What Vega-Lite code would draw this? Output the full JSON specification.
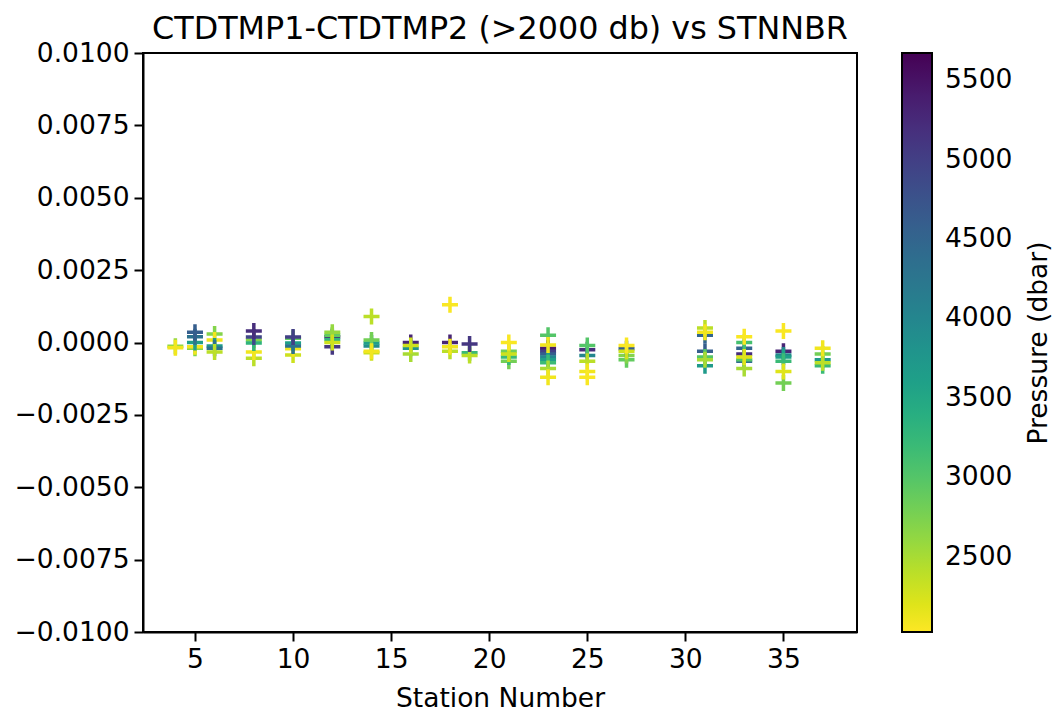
{
  "$schema": "https://vega.github.io/schema/vega-lite/v6.json",
  "width": 714,
  "height": 579,
  "autosize": {"type": "none"},
  "padding": {"left": 143, "top": 53, "right": 198, "bottom": 81},
  "background": "white",
  "title": {
    "text": "CTDTMP1-CTDTMP2 (>2000 db) vs STNNBR",
    "font": "DejaVu Sans",
    "fontSize": 31.8,
    "fontWeight": "normal",
    "color": "black",
    "offset": -6,
    "anchor": "middle"
  },
  "config": {
    "view": {"stroke": "black", "strokeWidth": 2},
    "axis": {
      "labelFont": "DejaVu Sans",
      "labelFontSize": 26.5,
      "labelColor": "black",
      "titleFont": "DejaVu Sans",
      "titleFontSize": 26.5,
      "titleFontWeight": "normal",
      "titleColor": "black",
      "tickColor": "black",
      "tickSize": 9,
      "tickWidth": 2,
      "domainColor": "black",
      "domainWidth": 2,
      "grid": false,
      "labelPadding": 5
    }
  },
  "data": {
    "values": [
      {"s": 4, "d": -0.00013, "p": 2600}, {"s": 4, "d": -0.00018, "p": 2100},
      {"s": 5, "d": -0.0002, "p": 2700}, {"s": 5, "d": -0.00015, "p": 2100}, {"s": 5, "d": 0.0, "p": 3600}, {"s": 5, "d": 0.0002, "p": 4300}, {"s": 5, "d": 0.00035, "p": 4600},
      {"s": 6, "d": 0.00029, "p": 2700}, {"s": 6, "d": 0.00009, "p": 2100}, {"s": 6, "d": -0.00012, "p": 3700}, {"s": 6, "d": -0.0002, "p": 4300}, {"s": 6, "d": -0.00033, "p": 2400},
      {"s": 8, "d": -0.00054, "p": 2400}, {"s": 8, "d": -0.00033, "p": 2100}, {"s": 8, "d": 0.00009, "p": 2700}, {"s": 8, "d": -0.00002, "p": 3300}, {"s": 8, "d": 0.00019, "p": 4900}, {"s": 8, "d": 0.0004, "p": 5200},
      {"s": 10, "d": -0.00043, "p": 2300}, {"s": 10, "d": -0.00022, "p": 2100}, {"s": 10, "d": 0.00015, "p": 2900}, {"s": 10, "d": -0.00002, "p": 3600}, {"s": 10, "d": -0.00012, "p": 4300}, {"s": 10, "d": 0.00019, "p": 5000},
      {"s": 12, "d": -0.00015, "p": 5100}, {"s": 12, "d": 0.0002, "p": 5300}, {"s": 12, "d": 0.0001, "p": 3300}, {"s": 12, "d": 0.00025, "p": 2900}, {"s": 12, "d": 0.00035, "p": 2600}, {"s": 12, "d": 0.0, "p": 2300},
      {"s": 14, "d": 0.0009, "p": 2400}, {"s": 14, "d": -0.00012, "p": 3900}, {"s": 14, "d": -0.00002, "p": 3600}, {"s": 14, "d": 0.00009, "p": 2800}, {"s": 14, "d": -0.00035, "p": 2300}, {"s": 14, "d": -0.0003, "p": 2100},
      {"s": 16, "d": 0.0, "p": 5300}, {"s": 16, "d": -0.0002, "p": 3800}, {"s": 16, "d": -0.0004, "p": 2500}, {"s": 16, "d": -0.0001, "p": 2300},
      {"s": 18, "d": 0.0, "p": 5300}, {"s": 18, "d": -0.0003, "p": 2400}, {"s": 18, "d": -0.00015, "p": 2100}, {"s": 18, "d": 0.0013, "p": 2050},
      {"s": 19, "d": -0.00035, "p": 3200}, {"s": 19, "d": -0.00045, "p": 2400}, {"s": 19, "d": -0.00005, "p": 5100},
      {"s": 21, "d": -0.00065, "p": 2800}, {"s": 21, "d": -0.0005, "p": 3200}, {"s": 21, "d": -0.0003, "p": 2800}, {"s": 21, "d": -0.0004, "p": 2300}, {"s": 21, "d": 0.0, "p": 2050},
      {"s": 23, "d": 0.00025, "p": 3000}, {"s": 23, "d": -0.0002, "p": 5400}, {"s": 23, "d": -0.0003, "p": 5000}, {"s": 23, "d": -0.0004, "p": 4600}, {"s": 23, "d": -0.0005, "p": 4000}, {"s": 23, "d": -0.0006, "p": 3600}, {"s": 23, "d": -0.0007, "p": 3200}, {"s": 23, "d": -0.0009, "p": 2500}, {"s": 23, "d": -0.00009, "p": 2100}, {"s": 23, "d": -0.0012, "p": 2100},
      {"s": 25, "d": -0.00025, "p": 5200}, {"s": 25, "d": -0.00045, "p": 4000}, {"s": 25, "d": -0.0001, "p": 3000}, {"s": 25, "d": -0.00065, "p": 2400}, {"s": 25, "d": -0.001, "p": 2100}, {"s": 25, "d": -0.0012, "p": 2050},
      {"s": 27, "d": -0.0006, "p": 2900}, {"s": 27, "d": -0.00045, "p": 2700}, {"s": 27, "d": -0.00022, "p": 4600}, {"s": 27, "d": -0.0003, "p": 2300}, {"s": 27, "d": -0.0001, "p": 2050},
      {"s": 31, "d": -0.0008, "p": 3700}, {"s": 31, "d": -0.0003, "p": 4600}, {"s": 31, "d": -0.0005, "p": 3000}, {"s": 31, "d": -0.0006, "p": 2500}, {"s": 31, "d": 0.00025, "p": 4500}, {"s": 31, "d": 0.0005, "p": 2400}, {"s": 31, "d": 0.00035, "p": 2100},
      {"s": 33, "d": -0.0004, "p": 5200}, {"s": 33, "d": -0.0002, "p": 4500}, {"s": 33, "d": -0.00065, "p": 4400}, {"s": 33, "d": 0.0, "p": 3100}, {"s": 33, "d": -0.0006, "p": 3000}, {"s": 33, "d": -0.0009, "p": 2500}, {"s": 33, "d": -0.0005, "p": 2200}, {"s": 33, "d": 0.0002, "p": 2050},
      {"s": 35, "d": -0.0003, "p": 5300}, {"s": 35, "d": -0.00043, "p": 4000}, {"s": 35, "d": -0.0005, "p": 3600}, {"s": 35, "d": -0.00065, "p": 3200}, {"s": 35, "d": -0.0014, "p": 2800}, {"s": 35, "d": -0.001, "p": 2200}, {"s": 35, "d": 0.0004, "p": 2050},
      {"s": 37, "d": -0.0006, "p": 3700}, {"s": 37, "d": -0.0008, "p": 3200}, {"s": 37, "d": -0.0004, "p": 2800}, {"s": 37, "d": -0.0007, "p": 2400}, {"s": 37, "d": -0.0002, "p": 2100}
    ]
  },
  "layer": [
    {
      "mark": {
        "type": "point",
        "shape": "M-1,0H1M0,-1V1",
        "filled": false,
        "size": 256,
        "strokeWidth": 3.5,
        "opacity": 1,
        "clip": true
      },
      "encoding": {
        "x": {
          "field": "s",
          "type": "quantitative",
          "scale": {"domain": [2.35, 38.75], "nice": false, "zero": false},
          "axis": {"values": [5, 10, 15, 20, 25, 30, 35], "format": "d", "title": "Station Number", "titlePadding": 13}
        },
        "y": {
          "field": "d",
          "type": "quantitative",
          "scale": {"domain": [-0.01, 0.01], "nice": false, "zero": false},
          "axis": {"values": [-0.01, -0.0075, -0.005, -0.0025, 0, 0.0025, 0.005, 0.0075, 0.01], "format": ".4f", "title": null}
        },
        "stroke": {
          "field": "p",
          "type": "quantitative",
          "scale": {"scheme": "viridis", "reverse": true, "domain": [2028, 5670], "nice": false, "zero": false},
          "legend": {
            "title": null,
            "orient": "none",
            "legendX": 759,
            "legendY": 0,
            "padding": 0,
            "direction": "vertical",
            "gradientLength": 579,
            "gradientThickness": 30,
            "gradientStrokeColor": "black",
            "gradientStrokeWidth": 2,
            "values": [2500, 3000, 3500, 4000, 4500, 5000, 5500],
            "labelFont": "DejaVu Sans",
            "labelFontSize": 26.5,
            "labelColor": "black",
            "labelOffset": 13,
            "labelOverlap": false,
            "format": "d"
          }
        }
      }
    },
    {
      "mark": {"type": "point", "opacity": 0},
      "encoding": {
        "y": {
          "field": "p",
          "type": "quantitative",
          "axis": {
            "orient": "right",
            "labels": false,
            "ticks": false,
            "domain": false,
            "grid": false,
            "title": "Pressure (dbar)",
            "titleAngle": -90,
            "titlePadding": 195
          }
        }
      }
    }
  ],
  "resolve": {"scale": {"y": "independent"}}
}
